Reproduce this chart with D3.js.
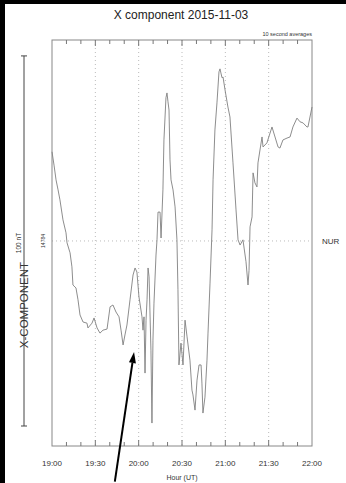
<!DOCTYPE html>
<html lang="en">
<head>
  <meta charset="UTF-8">
  <title>X component 2015-11-03</title>
  <script src="https://d3js.org/d3.v7.min.js"></script>
  <style>
    body { margin: 0; background: #fff; font-family: 'Liberation Sans', Arial, sans-serif; }
    svg { display: block; }
  </style>
</head>
<body>
  <svg width="346" height="483"></svg>
  <script>
    // minutes after 19:00 UT
    const minutes = [0, 1.4, 2.8, 4.2, 5.5, 7.6, 9.7, 10.4, 12.5, 13.8, 14.5, 16.6, 18.0, 19.4, 21.5, 24.2, 24.9,
      27.7, 29.1, 31.2, 33.2, 35.3, 38.1, 40.2, 42.2, 44.3, 46.4, 47.8, 49.2, 50.5, 51.9, 54.0, 56.1, 57.5, 58.8,
      60.2, 62.3, 63.0, 63.7, 64.4, 65.1, 65.8, 66.5, 67.2, 68.5, 69.2, 69.9, 70.6, 72.0, 72.7, 73.4, 74.8, 75.5,
      76.8, 77.5, 78.9, 79.6, 80.3, 81.0, 81.7, 82.4, 83.8, 85.2, 86.5, 87.2, 87.9, 89.3, 90.7, 92.1, 93.5, 95.5,
      96.9, 97.6, 99.0, 100.4, 101.8, 103.2, 103.8, 104.5, 105.9, 107.3, 108.0, 109.4, 110.8, 111.5, 112.8, 114.2,
      115.6, 116.3, 117.7, 118.4, 119.8, 121.8, 123.2, 125.3, 127.4, 128.8, 130.2, 132.2, 134.3, 135.7, 136.4,
      137.1, 138.5, 139.2, 140.5, 141.9, 142.6, 145.4, 146.1, 148.8, 152.3, 154.4, 156.5, 157.8, 159.9, 162.7,
      164.8, 166.8, 169.6, 171.7, 173.8, 176.5, 177.2, 180];
    // X component, nT
    const xComp = [14808.1, 14804.5, 14800.5, 14797.8, 14795.1, 14789.7, 14786.2, 14783.5, 14780.8, 14777.0, 14772.1,
      14771.3, 14768.1, 14764.0, 14762.1, 14761.8, 14760.5, 14761.8, 14763.2, 14760.5, 14759.1, 14759.9, 14760.2,
      14766.2, 14766.7, 14764.8, 14763.5, 14759.9, 14755.9, 14758.6, 14761.3, 14768.1, 14774.8, 14776.7, 14775.6,
      14768.9, 14763.5, 14759.9, 14763.5, 14748.3, 14762.6, 14768.1, 14776.7, 14774.3, 14754.5, 14734.8, 14757.2,
      14767.2, 14780.2, 14784.3, 14791.8, 14791.8, 14784.8, 14797.8, 14811.3, 14822.7, 14824.0, 14821.6, 14819.4,
      14805.9, 14800.5, 14797.8, 14793.2, 14784.3, 14770.8, 14750.5, 14756.4, 14750.5, 14762.6, 14758.1, 14751.8,
      14743.7, 14742.4, 14738.3, 14746.4, 14750.5, 14750.5, 14745.6, 14737.5, 14741.8, 14751.8, 14759.1, 14772.6,
      14787.0, 14800.5, 14814.0, 14821.3, 14829.7, 14830.5, 14828.1, 14828.3, 14824.8, 14820.2, 14817.5, 14805.1,
      14792.4, 14784.3, 14782.9, 14784.3, 14778.4, 14772.1, 14776.0, 14787.8, 14790.5, 14802.4, 14799.7, 14798.6,
      14805.1, 14812.1, 14809.4, 14810.5, 14814.8, 14812.1, 14809.4, 14809.1, 14811.3, 14811.8, 14812.1, 14814.8,
      14817.2, 14816.2, 14815.9, 14814.8, 14814.8, 14820.2];
    const tickLabels = ["19:00", "19:30", "20:00", "20:30", "21:00", "21:30", "22:00"];
    const baseline = 14784;
    const scaleBarNT = 100;

    const svg = d3.select("svg");
    const plotL = 52, plotR = 312, plotT = 40, plotB = 446;

    // black scan edges
    svg.append("rect").attr("x", 0).attr("y", 0).attr("width", 5).attr("height", 483).attr("fill", "#000");
    svg.append("rect").attr("x", 0).attr("y", 0).attr("width", 346).attr("height", 4).attr("fill", "#000");

    const x = d3.scaleLinear().domain([0, 180]).range([plotL, plotR]);
    const y = d3.scaleLinear().domain([baseline - 55.4, baseline + 54.3]).range([plotB, plotT]);

    svg.append("text").attr("x", 181).attr("y", 19).attr("text-anchor", "middle")
      .attr("font-size", 12).attr("fill", "#222").text("X component 2015-11-03");
    svg.append("text").attr("x", plotR).attr("y", 36).attr("text-anchor", "end")
      .attr("font-size", 5.5).attr("fill", "#333").text("10 second averages");

    // grid
    const grid = svg.append("g").attr("stroke", "#bbb").attr("stroke-dasharray", "1,3");
    grid.selectAll("line.v").data([30, 60, 90, 120, 150]).join("line")
      .attr("x1", d => x(d)).attr("x2", d => x(d)).attr("y1", plotT).attr("y2", plotB);
    grid.append("line").attr("x1", plotL).attr("x2", plotR).attr("y1", y(baseline)).attr("y2", y(baseline));

    // frame
    svg.append("rect").attr("x", plotL).attr("y", plotT).attr("width", plotR - plotL).attr("height", plotB - plotT)
      .attr("fill", "none").attr("stroke", "#888").attr("stroke-width", 1);

    // ticks every 10 min, inward on top and bottom
    const tickMins = d3.range(10, 180, 10);
    const tk = svg.append("g").attr("stroke", "#777").attr("stroke-width", 1);
    tk.selectAll("line.t").data(tickMins).join("line")
      .attr("x1", d => x(d)).attr("x2", d => x(d))
      .attr("y1", plotT).attr("y2", d => plotT + (d % 30 === 0 ? 6 : 4));
    tk.selectAll("line.b").data(tickMins).join("line")
      .attr("x1", d => x(d)).attr("x2", d => x(d))
      .attr("y1", plotB).attr("y2", d => plotB - (d % 30 === 0 ? 6 : 4));

    svg.append("g").selectAll("text").data(tickLabels).join("text")
      .attr("x", (d, i) => x(i * 30)).attr("y", 466).attr("text-anchor", "middle")
      .attr("font-size", 8).attr("fill", "#333").text(d => d);
    svg.append("text").attr("x", x(90)).attr("y", 480).attr("text-anchor", "middle")
      .attr("font-size", 7).attr("fill", "#333").text("Hour (UT)");

    // curve
    const line = d3.line().x((d, i) => x(minutes[i])).y(d => y(d));
    svg.append("path").datum(xComp).attr("d", line)
      .attr("fill", "none").attr("stroke", "#808080").attr("stroke-width", 0.9);

    // baseline label + station
    svg.append("text").attr("transform", `translate(45,${y(baseline)}) rotate(-90)`)
      .attr("text-anchor", "middle").attr("font-size", 5).attr("fill", "#333").text(baseline);
    svg.append("text").attr("x", 322).attr("y", y(baseline) + 3).attr("font-size", 8)
      .attr("fill", "#333").text("NUR");

    // scale bar
    const barX = 24;
    const sb = svg.append("g").attr("stroke", "#444").attr("stroke-width", 1);
    sb.append("line").attr("x1", barX).attr("x2", barX)
      .attr("y1", y(baseline + scaleBarNT / 2)).attr("y2", y(baseline - scaleBarNT / 2));
    [baseline + scaleBarNT / 2, baseline - scaleBarNT / 2].forEach(v => {
      sb.append("line").attr("x1", barX - 3).attr("x2", barX + 3).attr("y1", y(v)).attr("y2", y(v));
    });
    svg.append("text").attr("transform", `translate(${barX + 4},305) rotate(-90)`)
      .attr("text-anchor", "middle").attr("font-size", 11.5).attr("fill", "#333").text("X-COMPONENT");
    svg.append("text").attr("transform", `translate(21,243) rotate(-90)`)
      .attr("text-anchor", "middle").attr("font-size", 6.5).attr("fill", "#333").text("100 nT");

    // annotation arrow
    const tip = [x(56.8), y(14754)], tail = [x(43.5), y(14719)];
    const ang = Math.atan2(tip[1] - tail[1], tip[0] - tail[0]);
    const ah = 11, aw = 3.5;
    const base = [tip[0] - ah * Math.cos(ang), tip[1] - ah * Math.sin(ang)];
    svg.append("line").attr("x1", tail[0]).attr("y1", tail[1]).attr("x2", base[0]).attr("y2", base[1])
      .attr("stroke", "#000").attr("stroke-width", 2);
    svg.append("path").attr("fill", "#000").attr("d", d3.line()([
      tip,
      [base[0] + aw * Math.sin(ang), base[1] - aw * Math.cos(ang)],
      [base[0] - aw * Math.sin(ang), base[1] + aw * Math.cos(ang)]
    ]));
  </script>
</body>
</html>
